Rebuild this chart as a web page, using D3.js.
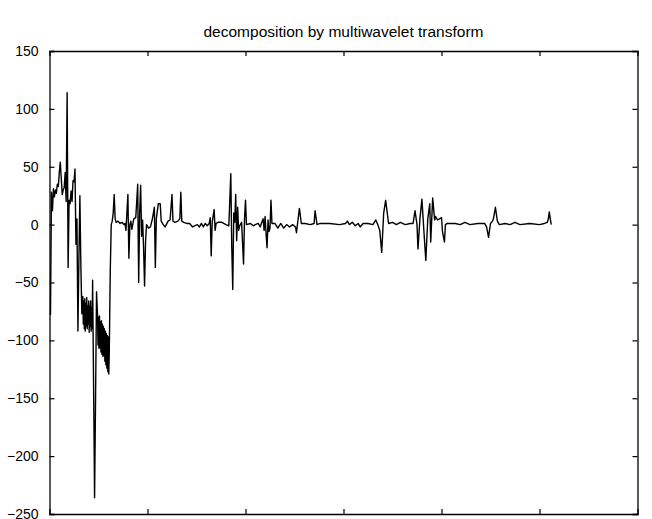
<!DOCTYPE html>
<html>
<head>
<meta charset="utf-8">
<script src="https://cdn.jsdelivr.net/npm/d3@7"></script>
<style>
  body { margin: 0; background: #fff; }
  svg { display: block; font-family: "Liberation Sans", Arial, sans-serif; }
</style>
</head>
<body>
<div id="chart"></div>
<script>
// sample index and amplitude of the decomposed signal
const sampleIdx = [
  1, 2, 3, 4, 5, 6, 7, 8, 9, 10, 11, 12, 13, 14, 15, 16, 17, 18, 19, 20,
  21, 22, 23, 24, 25, 26, 27, 28, 29, 30, 31, 32, 33,
  34, 34.5, 35, 35.5, 36, 36.5, 37, 37.5, 38, 38.5, 39, 39.5, 40, 40.5, 41, 41.5, 42, 42.5, 43, 43.5,
  44, 45, 46, 47, 48,
  49, 49.5, 50, 50.5, 51, 51.5, 52, 52.5, 53, 53.5, 54, 54.5, 55, 55.5, 56, 56.5, 57, 57.5, 58, 58.5,
  59, 59.5, 60, 60.5,
  61, 62, 63, 64, 65, 66, 67, 68, 70, 72, 74, 76, 77, 78, 80, 81, 82, 83, 84, 86,
  88, 89, 90, 91, 92, 93, 94, 95, 96, 97, 98, 99, 101, 103, 105, 107, 108, 109, 111, 113,
  114, 116, 118, 121, 123, 125, 126, 128, 131, 133, 134, 135, 137, 140, 143, 146, 148, 151, 153, 155,
  157, 159, 161, 163, 164, 165, 166, 168, 169, 170, 172, 176, 180, 183, 185, 186, 187, 188, 189, 190,
  191, 192, 193, 194, 196, 198, 199, 200, 201, 205, 208, 210, 213, 215, 217, 218, 219, 220, 221, 222,
  223, 224, 225, 226, 227, 230, 233, 236, 239, 242, 245, 248, 251, 252, 255, 257, 261, 266, 270, 271,
  273, 276, 286, 296, 302, 304, 306, 309, 312, 315, 317, 320, 325, 330, 333, 335, 337, 339, 341, 343,
  346, 350, 354, 358, 363, 368, 371, 373, 375, 376, 378, 380, 382, 384, 386, 388, 389, 391, 393, 394,
  396, 398, 400, 401, 403, 404, 406, 414, 419, 424, 429, 437, 444, 446, 448, 450, 452, 453, 455, 457,
  459, 465, 470, 475, 480, 490, 500, 505, 508, 509, 510, 511, 512
];
const amplitude = [
  -78, 28, 12, 31, 24, 30, 27, 35, 33, 45, 54, 40, 26, 30, 32, 45, 20, 114, -37, 21,
  18, 29, 20, 38, 37, 48, -17, 5, -92, -30, 25, -35, -77,
  -62, -86, -66, -90, -64, -92, -68, -88, -63, -90, -70, -86, -66, -93, -70, -88, -66, -92, -72, -90,
  -48, -140, -236, -150, -58,
  -78, -104, -80, -107, -79, -106, -84, -110, -83, -112, -86, -114, -88, -113, -90, -118, -92, -121, -94, -124,
  -96, -127, -97, -129,
  -110, -40, 0, 3, 10, 26, 5, 2, 3, 1, 2, 0, 1, -5, 26, -29, 0, 3, -4, 5,
  6, 20, 35, -50, 10, 34, -10, 4, -20, -53, -15, 0, -3, -2, 5, 15, -37, 5, 18, 18,
  3, 0, -2, 3, 4, 26, 3, 2, 3, 5, 28, 3, 2, 1, 1, -2, -1, 0, -2, 1,
  -2, 1, -1, 1, 6, -27, 2, 13, -5, 1, 2, 2, 0, -1, 44, -20, -56, 10, 2, 26,
  -14, 15, -5, -1, 2, -34, 5, 21, 0, 1, -1, 0, 1, -2, 3, 5, -5, 7, -8, -20,
  4, -6, -3, 21, 1, 1, -3, 1, -3, 0, -2, 0, -2, -7, 14, 1, 1, 0, 1, 12,
  0, 1, 1, 0, 1, 3, 0, 2, -1, 1, -2, 1, 1, 0, 4, 0, -5, -24, 10, 21,
  1, 2, 0, 2, 0, 1, 1, 12, 0, -21, 5, 22, -5, -31, 5, 18, -15, 23, 4, 7,
  4, 5, 6, -6, -15, 0, 1, 1, 0, 2, 0, 1, 1, -2, -11, 1, 3, 5, 15, 3,
  0, 1, 0, 2, 0, 1, 0, 1, 2, 5, 11, 5, 0
];
const xTicks = [100, 200, 300, 400, 500];
const yTicks = [150, 100, 50, 0, -50, -100, -150, -200, -250];
const title = "decomposition by multiwavelet transform";

const width = 652, height = 519;
const margin = { top: 51, right: 15, bottom: 5, left: 49.5 };

const svg = d3.select("#chart").append("svg")
  .attr("width", width)
  .attr("height", height);

const x = d3.scaleLinear().domain([0, 600]).range([margin.left, 637.5]);
const y = d3.scaleLinear().domain([-250, 150]).range([514, margin.top]);

const data = sampleIdx.map((s, i) => ({ s: s, v: amplitude[i] }));

// signal
svg.append("path")
  .datum(data)
  .attr("fill", "none")
  .attr("stroke", "#000")
  .attr("stroke-width", 1.4)
  .attr("stroke-linejoin", "round")
  .attr("d", d3.line().x(d => x(d.s)).y(d => y(d.v)));

// axes: ticks point inward on all four sides, labels only on the left
const fmt = d => d < 0 ? "\u2212" + Math.abs(d) : String(d);

const axLeft = svg.append("g")
  .attr("transform", `translate(${x(0)},0)`)
  .call(d3.axisLeft(y).tickValues(yTicks).tickSize(-5).tickPadding(11).tickFormat(fmt));
const axRight = svg.append("g")
  .attr("transform", `translate(${x(600)},0)`)
  .call(d3.axisRight(y).tickValues(yTicks).tickSize(-5).tickFormat(""));
const axTop = svg.append("g")
  .attr("transform", `translate(0,${y(150)})`)
  .call(d3.axisTop(x).tickValues(xTicks).tickSize(-5).tickFormat(""));
const axBottom = svg.append("g")
  .attr("transform", `translate(0,${y(-250)})`)
  .call(d3.axisBottom(x).tickValues(xTicks).tickSize(-5).tickFormat(""));

[axLeft, axRight, axTop, axBottom].forEach(g => {
  g.selectAll(".domain").attr("stroke", "#000").attr("stroke-width", 1.3);
  g.selectAll(".tick line").attr("stroke", "#000").attr("stroke-width", 1.2);
});
axLeft.selectAll(".tick text")
  .attr("fill", "#000")
  .style("font-size", "14px")
  .style("font-family", "'Liberation Sans', Arial, sans-serif");

svg.append("text")
  .attr("x", (x(0) + x(600)) / 2)
  .attr("y", 37)
  .attr("text-anchor", "middle")
  .style("font-size", "15.5px")
  .style("fill", "#000")
  .text(title);
</script>
</body>
</html>
